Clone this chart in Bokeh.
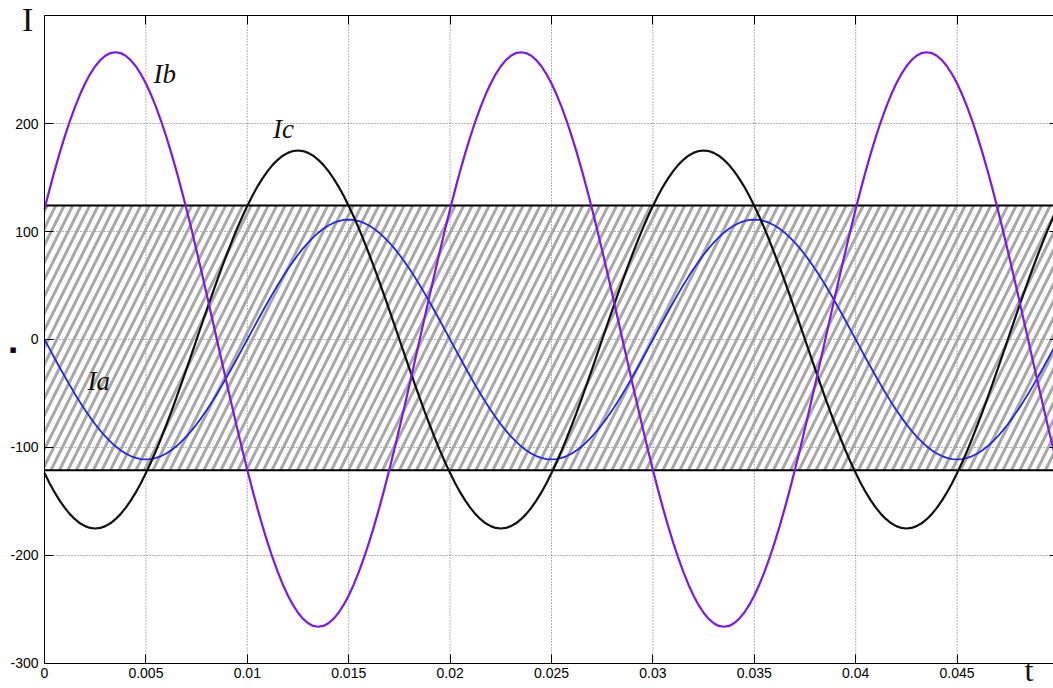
import numpy as np
from bokeh.plotting import figure
from bokeh.models import Range1d, FixedTicker, LinearAxis, Label
from bokeh.embed import file_html
from bokeh.resources import INLINE

# ---------------- data, one sample every 0.25 ms ----------------
sample_step = 0.00025

ia = [0, -8.7, -17.4, -25.9, -34.3, -42.5, -50.4, -58.0, -65.2, -72.1, -78.5, -84.4, -89.8, -94.6,
      -98.9, -102.6, -105.6, -107.9, -109.6, -110.7, -111, -110.7, -109.6, -107.9, -105.6, -102.6,
      -98.9, -94.6, -89.8, -84.4, -78.5, -72.1, -65.2, -58.0, -50.4, -42.5, -34.3, -25.9, -17.4, -8.7,
      0, 8.7, 17.4, 25.9, 34.3, 42.5, 50.4, 58.0, 65.2, 72.1, 78.5, 84.4, 89.8, 94.6,
      98.9, 102.6, 105.6, 107.9, 109.6, 110.7, 111, 110.7, 109.6, 107.9, 105.6, 102.6,
      98.9, 94.6, 89.8, 84.4, 78.5, 72.1, 65.2, 58.0, 50.4, 42.5, 34.3, 25.9, 17.4, 8.7,
      0, -8.7, -17.4, -25.9, -34.3, -42.5, -50.4, -58.0, -65.2, -72.1, -78.5, -84.4, -89.8, -94.6,
      -98.9, -102.6, -105.6, -107.9, -109.6, -110.7, -111, -110.7, -109.6, -107.9, -105.6, -102.6,
      -98.9, -94.6, -89.8, -84.4, -78.5, -72.1, -65.2, -58.0, -50.4, -42.5, -34.3, -25.9, -17.4, -8.7,
      0, 8.7, 17.4, 25.9, 34.3, 42.5, 50.4, 58.0, 65.2, 72.1, 78.5, 84.4, 89.8, 94.6,
      98.9, 102.6, 105.6, 107.9, 109.6, 110.7, 111, 110.7, 109.6, 107.9, 105.6, 102.6,
      98.9, 94.6, 89.8, 84.4, 78.5, 72.1, 65.2, 58.0, 50.4, 42.5, 34.3, 25.9, 17.4, 8.7,
      0, -8.7, -17.4, -25.9, -34.3, -42.5, -50.4, -58.0, -65.2, -72.1, -78.5, -84.4, -89.8, -94.6,
      -98.9, -102.6, -105.6, -107.9, -109.6, -110.7, -111, -110.7, -109.6, -107.9, -105.6, -102.6,
      -98.9, -94.6, -89.8, -84.4, -78.5, -72.1, -65.2, -58.0, -50.4, -42.5, -34.3, -25.9, -17.4, -8.7,
      0]

ib = [120.8, 139.0, 156.4, 172.8, 188.1, 202.3, 215.2, 226.8, 237.0, 245.8, 253.0, 258.7, 262.7,
      265.2, 266, 265.2, 262.7, 258.7, 253.0, 245.8, 237.0, 226.8, 215.2, 202.3, 188.1, 172.8,
      156.4, 139.0, 120.8, 101.8, 82.2, 62.1, 41.6, 20.9,
      0, -20.9, -41.6, -62.1, -82.2, -101.8, -120.8, -139.0, -156.4, -172.8, -188.1, -202.3, -215.2,
      -226.8, -237.0, -245.8, -253.0, -258.7, -262.7, -265.2, -266, -265.2, -262.7, -258.7, -253.0,
      -245.8, -237.0, -226.8, -215.2, -202.3, -188.1, -172.8, -156.4, -139.0, -120.8, -101.8, -82.2,
      -62.1, -41.6, -20.9,
      0, 20.9, 41.6, 62.1, 82.2, 101.8,
      120.8, 139.0, 156.4, 172.8, 188.1, 202.3, 215.2, 226.8, 237.0, 245.8, 253.0, 258.7, 262.7,
      265.2, 266, 265.2, 262.7, 258.7, 253.0, 245.8, 237.0, 226.8, 215.2, 202.3, 188.1, 172.8,
      156.4, 139.0, 120.8, 101.8, 82.2, 62.1, 41.6, 20.9,
      0, -20.9, -41.6, -62.1, -82.2, -101.8, -120.8, -139.0, -156.4, -172.8, -188.1, -202.3, -215.2,
      -226.8, -237.0, -245.8, -253.0, -258.7, -262.7, -265.2, -266, -265.2, -262.7, -258.7, -253.0,
      -245.8, -237.0, -226.8, -215.2, -202.3, -188.1, -172.8, -156.4, -139.0, -120.8, -101.8, -82.2,
      -62.1, -41.6, -20.9,
      0, 20.9, 41.6, 62.1, 82.2, 101.8,
      120.8, 139.0, 156.4, 172.8, 188.1, 202.3, 215.2, 226.8, 237.0, 245.8, 253.0, 258.7, 262.7,
      265.2, 266, 265.2, 262.7, 258.7, 253.0, 245.8, 237.0, 226.8, 215.2, 202.3, 188.1, 172.8,
      156.4, 139.0, 120.8, 101.8, 82.2, 62.1, 41.6, 20.9,
      0, -20.9, -41.6, -62.1, -82.2, -101.8, -120.8]

ic = [-123.7, -133.1, -141.6, -149.2, -155.9, -161.7, -166.4, -170.2, -172.8, -174.5, -175, -174.5,
      -172.8, -170.2, -166.4, -161.7, -155.9, -149.2, -141.6, -133.1, -123.7, -113.7, -102.9, -91.4,
      -79.4, -67.0, -54.1, -40.9, -27.4, -13.7,
      0, 13.7, 27.4, 40.9, 54.1, 67.0, 79.4, 91.4, 102.9, 113.7, 123.7, 133.1, 141.6, 149.2, 155.9,
      161.7, 166.4, 170.2, 172.8, 174.5, 175, 174.5, 172.8, 170.2, 166.4, 161.7, 155.9, 149.2, 141.6,
      133.1, 123.7, 113.7, 102.9, 91.4, 79.4, 67.0, 54.1, 40.9, 27.4, 13.7,
      0, -13.7, -27.4, -40.9, -54.1, -67.0, -79.4, -91.4, -102.9, -113.7,
      -123.7, -133.1, -141.6, -149.2, -155.9, -161.7, -166.4, -170.2, -172.8, -174.5, -175, -174.5,
      -172.8, -170.2, -166.4, -161.7, -155.9, -149.2, -141.6, -133.1, -123.7, -113.7, -102.9, -91.4,
      -79.4, -67.0, -54.1, -40.9, -27.4, -13.7,
      0, 13.7, 27.4, 40.9, 54.1, 67.0, 79.4, 91.4, 102.9, 113.7, 123.7, 133.1, 141.6, 149.2, 155.9,
      161.7, 166.4, 170.2, 172.8, 174.5, 175, 174.5, 172.8, 170.2, 166.4, 161.7, 155.9, 149.2, 141.6,
      133.1, 123.7, 113.7, 102.9, 91.4, 79.4, 67.0, 54.1, 40.9, 27.4, 13.7,
      0, -13.7, -27.4, -40.9, -54.1, -67.0, -79.4, -91.4, -102.9, -113.7,
      -123.7, -133.1, -141.6, -149.2, -155.9, -161.7, -166.4, -170.2, -172.8, -174.5, -175, -174.5,
      -172.8, -170.2, -166.4, -161.7, -155.9, -149.2, -141.6, -133.1, -123.7, -113.7, -102.9, -91.4,
      -79.4, -67.0, -54.1, -40.9, -27.4, -13.7,
      0, 13.7, 27.4, 40.9, 54.1, 67.0, 79.4, 91.4, 102.9, 113.7, 123.7]

t_ia = np.round(np.arange(len(ia)) * sample_step, 6)
t_ib = np.round(np.arange(len(ib)) * sample_step, 6)
t_ic = np.round(np.arange(len(ic)) * sample_step, 6)

band_low = -121
band_high = 124

t_min, t_max = 0, 0.05
i_min, i_max = -300, 300

x_ticks = [0, 0.005, 0.01, 0.015, 0.02, 0.025, 0.03, 0.035, 0.04, 0.045]
x_tick_labels = ["0", "0.005", "0.01", "0.015", "0.02", "0.025", "0.03", "0.035", "0.04", "0.045"]
y_ticks = [-300, -200, -100, 0, 100, 200]
y_tick_labels = ["-300", "-200", "-100", "0", "100", "200"]

series_names = ["Ia", "Ib", "Ic"]

# ---------------- figure ----------------
# the frame fills the canvas; the axes sit at fixed data locations inside it
p = figure(width=1053, height=688, output_backend="svg", toolbar_location=None,
           x_range=Range1d(-0.00217, 0.049753), y_range=Range1d(-323.15, 313.89),
           min_border_left=0, min_border_right=0, min_border_top=0, min_border_bottom=0)
p.background_fill_color = "white"
p.border_fill_color = "white"
p.outline_line_color = None
p.grid.visible = False

tick_font = "Liberation Sans"


def style_axis(ax, ticks, labels, show_labels):
    ax.ticker = FixedTicker(ticks=ticks)
    ax.axis_line_color = "black"
    ax.axis_line_width = 1
    ax.major_tick_line_color = "black"
    ax.major_tick_in = 9
    ax.major_tick_out = 0
    ax.minor_tick_line_color = None
    if show_labels:
        ax.major_label_overrides = {k: v for k, v in zip(ticks, labels)}
        ax.major_label_text_font = tick_font
        ax.major_label_text_font_size = "14px"
        ax.major_label_text_color = "black"
    else:
        ax.major_label_text_color = None
        ax.major_label_standoff = 0


xb = p.xaxis[0]
style_axis(xb, x_ticks, x_tick_labels, True)
xb.fixed_location = i_min
xb.bounds = (t_min, t_max)
xb.major_label_standoff = 5

yl = p.yaxis[0]
style_axis(yl, y_ticks, y_tick_labels, True)
yl.fixed_location = t_min
yl.bounds = (i_min, i_max)
yl.major_label_standoff = 6

top_ax = LinearAxis(fixed_location=i_max, bounds=(t_min, t_max))
style_axis(top_ax, x_ticks, x_tick_labels, False)
p.add_layout(top_ax, "above")
right_ax = LinearAxis(fixed_location=t_max, bounds=(i_min, i_max))
style_axis(right_ax, y_ticks, y_tick_labels, False)
p.add_layout(right_ax, "right")

# dotted grid, limited to the axes box
grid_style = dict(line_color="#666666", line_dash="1 2", line_width=1)
p.segment(x0=x_ticks[1:], x1=x_ticks[1:], y0=[i_min] * (len(x_ticks) - 1),
          y1=[i_max] * (len(x_ticks) - 1), **grid_style)
p.segment(x0=[t_min] * (len(y_ticks) - 1), x1=[t_max] * (len(y_ticks) - 1),
          y0=y_ticks[1:], y1=y_ticks[1:], **grid_style)

# hatched band
p.quad(left=[t_min], right=[t_max], bottom=[band_low], top=[band_high],
       fill_color=None, line_color=None, hatch_pattern="/", hatch_color="#a8a8a8",
       hatch_scale=17, hatch_weight=3)
p.segment(x0=[t_min, t_min], x1=[t_max, t_max], y0=[band_low, band_high],
          y1=[band_low, band_high], line_color="black", line_width=2)

# curves
p.line(t_ia, ia, color="#2424ee", line_width=1.8)
p.line(t_ic, ic, color="#111111", line_width=2.2)
p.line(t_ib, ib, color="#7d18e6", line_width=2.2)

# curve labels
serif = "Liberation Serif"
label_pos = {"Ia": (0.00212, -38.5), "Ib": (0.00537, 245.5), "Ic": (0.01127, 195)}
for name in series_names:
    x, y = label_pos[name]
    p.add_layout(Label(x=x, y=y, text=name, text_font=serif, text_font_style="italic",
                       text_font_size="27px", text_color="#111111", text_baseline="alphabetic"))

# axis letters
p.add_layout(Label(x=-0.00111, y=296, text="I", text_font=serif, text_font_size="34px",
                   text_color="#111111", text_baseline="alphabetic"))
p.add_layout(Label(x=0.04832, y=-306, text="t", text_font=serif, text_font_size="32px",
                   text_color="#111111", text_baseline="alphabetic"))
p.add_layout(Label(x=-0.00155, y=-9.7, text="■", text_font="DejaVu Sans", text_font_size="7px",
                   text_color="black", text_align="center", text_baseline="middle"))

open("out.html", "w").write(file_html(p, INLINE))
